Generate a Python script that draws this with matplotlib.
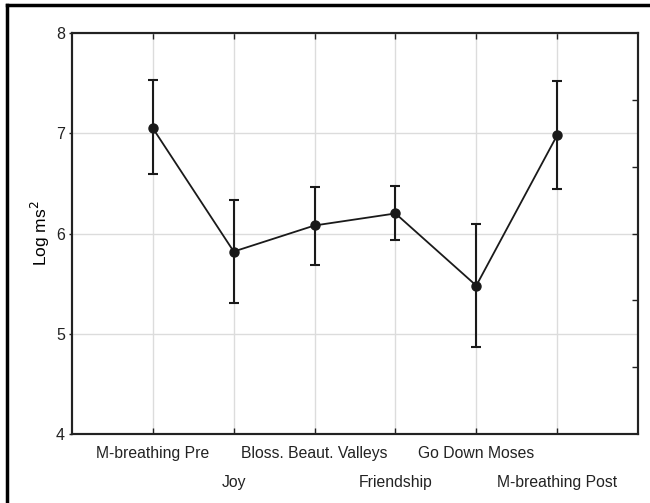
import numpy as np
import matplotlib.pyplot as plt
from matplotlib.lines import Line2D

plt.rcParams['font.family'] = ['Liberation Sans', 'DejaVu Sans']

# conditions in the order they were recorded
conditions = ['M-breathing Pre', 'Joy', 'Bloss. Beaut. Valleys',
              'Friendship', 'Go Down Moses', 'M-breathing Post']
# mean log ms^2 and the ends of the error bars
means = [7.05, 5.82, 6.08, 6.20, 5.48, 6.98]
upper = [7.53, 6.33, 6.46, 6.47, 6.09, 7.52]
lower = [6.59, 5.31, 5.69, 5.94, 4.87, 6.44]
y_ticks = [4, 5, 6, 7, 8]

x = np.arange(1, len(conditions) + 1)
means = np.array(means)
yerr = [means - np.array(lower), np.array(upper) - means]

fig = plt.figure(figsize=(6.5, 5.03), dpi=100)
ax = fig.add_axes([72/650, 1-434/503, 566/650, 401/503])

ax.errorbar(x, means, yerr=yerr, color='#1a1a1a', lw=1.3, marker='o', ms=6.5,
            elinewidth=1.5, capsize=3.3, capthick=1.5, zorder=3)

ax.set_xlim(0, 7)
ax.set_ylim(4, 8)

# staggered category labels: odd ones on the first row, even ones lower
ax.set_xticks(x[::2])
ax.set_xticklabels(conditions[::2])
ax.set_xticks(x[1::2], minor=True)
ax.set_xticklabels(conditions[1::2], minor=True)
ax.tick_params(axis='x', which='both', direction='in', length=4, width=1,
               top=True, labelsize=11.3, colors='#222222', labelcolor='#222222')
ax.tick_params(axis='x', which='major', pad=8.5)
ax.tick_params(axis='x', which='minor', pad=29.5)

ax.set_yticks(y_ticks)
ax.tick_params(axis='y', direction='out', length=2, width=1, labelsize=11.5,
               colors='#222222', pad=3)

ax.grid(True, which='both', color='#dcdcdc', lw=1)
ax.set_axisbelow(True)

# right side has its own inward ticks every 2/3 unit
ax2 = ax.twinx()
ax2.set_ylim(4, 8)
ax2.set_yticks([4 + 2/3, 4 + 4/3, 6, 6 + 2/3, 7 + 1/3])
ax2.tick_params(axis='y', direction='in', length=4, width=1, labelright=False,
                colors='#222222')

for a in (ax, ax2):
    for s in a.spines.values():
        s.set_linewidth(1.5)
        s.set_color('#222222')

ax.set_ylabel('Log ms$^2$', fontsize=12.5, labelpad=3)

# frame around the figure (left and top edges visible)
fig.add_artist(Line2D([7/650, 7/650], [0, 1-5/503], color='black', lw=2.5))
fig.add_artist(Line2D([7/650, 649/650], [1-5/503, 1-5/503], color='black', lw=2.5))

fig.savefig('out.png', dpi=100)
